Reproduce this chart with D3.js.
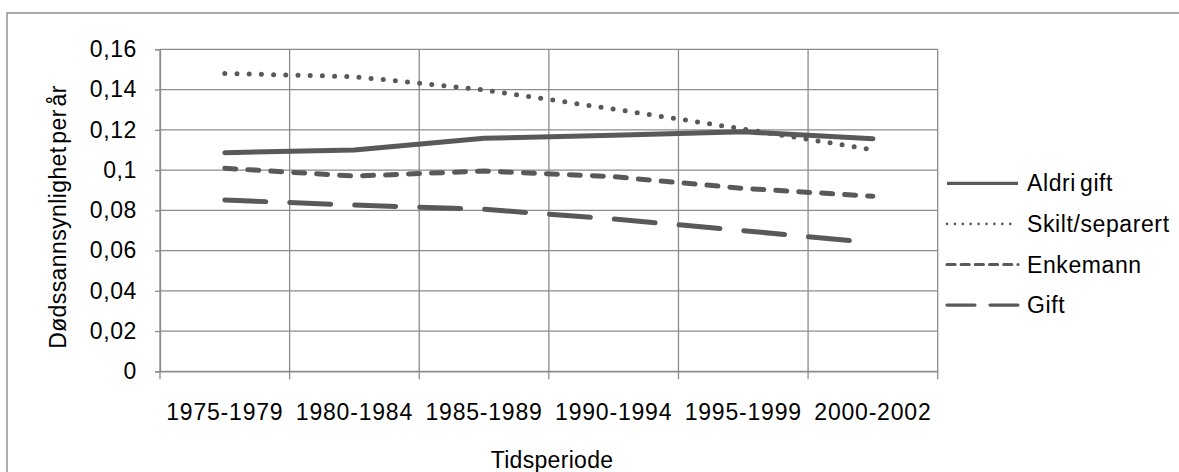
<!DOCTYPE html>
<html>
<head>
<meta charset="utf-8">
<script src="https://cdn.jsdelivr.net/npm/d3@7"></script>
<style>
  body { margin: 0; background: #fff; }
  text { font-family: "Liberation Sans", Arial, sans-serif; fill: #000; }
</style>
</head>
<body>
<div id="container"></div>
<script>
let width = 1179;
let height = 472;
let margin = ({ top: 49.3, right: 241.3, bottom: 100.7, left: 160 });

// data
let periods = ["1975-1979", "1980-1984", "1985-1989", "1990-1994", "1995-1999", "2000-2002"];
let y_ticks = [0, 0.02, 0.04, 0.06, 0.08, 0.1, 0.12, 0.14, 0.16];
let aldri_gift = [0.1086, 0.1100, 0.1158, 0.1173, 0.1190, 0.1156];
let skilt_separert = [0.1480, 0.1464, 0.1398, 0.1303, 0.1204, 0.1101];
let enkemann = [0.1009, 0.0970, 0.0995, 0.0967, 0.0909, 0.0870];
let gift = [0.0851, 0.0826, 0.0805, 0.0757, 0.0699, 0.0639];

let series = [
  { name: "Aldri gift", values: aldri_gift, dash: null, legend_dash: null },
  { name: "Skilt/separert", values: skilt_separert, dash: "0,12.2", legend_dash: "0,7.9" },
  { name: "Enkemann", values: enkemann, dash: "11,12", legend_dash: "8,6.2" },
  { name: "Gift", values: gift, dash: "41,24", legend_dash: "28,15" }
];

let line_color = "#595959";
let grid_color = "#8c8c8c";

let svg = d3.select("#container")
  .append("svg")
  .attr("width", width)
  .attr("height", height);

// outer chart frame (right and bottom fall outside the picture)
svg.append("path")
  .attr("d", "M7,480 L7,13 L1190,13")
  .attr("fill", "none")
  .attr("stroke", grid_color)
  .attr("stroke-width", 1.4);

let x = d3.scaleBand()
  .domain(periods)
  .range([margin.left, width - margin.right])
  .padding(0);

let y = d3.scaleLinear()
  .domain([0, 0.16])
  .range([height - margin.bottom, margin.top]);

let fmt = function (d) { return String(+d.toFixed(2)).replace(".", ","); };

// horizontal gridlines
svg.append("g")
  .selectAll("line")
  .data(y_ticks)
  .enter()
  .append("line")
  .attr("x1", margin.left)
  .attr("x2", width - margin.right)
  .attr("y1", d => y(d))
  .attr("y2", d => y(d))
  .attr("stroke", grid_color)
  .attr("stroke-width", 1.3);

// vertical gridlines at category boundaries
let bounds = periods.map(p => x(p)).concat([x(periods[periods.length - 1]) + x.bandwidth()]);
svg.append("g")
  .selectAll("line")
  .data(bounds)
  .enter()
  .append("line")
  .attr("x1", d => d)
  .attr("x2", d => d)
  .attr("y1", margin.top)
  .attr("y2", y(0) + 8)
  .attr("stroke", grid_color)
  .attr("stroke-width", 1.3);

// y axis
let y_axis = svg.append("g")
  .attr("transform", "translate(" + margin.left + ",0)")
  .call(d3.axisLeft(y).tickValues(y_ticks).tickFormat(fmt).tickSize(5).tickPadding(18));
y_axis.select(".domain").attr("stroke", grid_color).attr("stroke-width", 1.3);
y_axis.selectAll(".tick line").attr("stroke", grid_color).attr("stroke-width", 1.3);
y_axis.selectAll(".tick text")
  .attr("font-size", 23)
  .attr("fill", "#000")
  .style("letter-spacing", "0.6px")
  .attr("font-family", "Liberation Sans, Arial, sans-serif");

// x axis labels
let x_axis = svg.append("g")
  .attr("transform", "translate(0," + y(0) + ")")
  .call(d3.axisBottom(x).tickSize(0).tickPadding(49));
x_axis.select(".domain").attr("stroke", grid_color).attr("stroke-width", 1.3);
x_axis.selectAll(".tick text")
  .attr("font-size", 23)
  .attr("fill", "#000")
  .attr("dy", 0)
  .style("letter-spacing", "0.8px")
  .attr("font-family", "Liberation Sans, Arial, sans-serif");

// axis titles
svg.append("text")
  .attr("x", 552)
  .attr("y", 468)
  .attr("text-anchor", "middle")
  .attr("font-size", 23)
  .style("letter-spacing", "0.3px")
  .text("Tidsperiode");

svg.append("text")
  .attr("transform", "translate(66," + 217 + ") rotate(-90)")
  .attr("text-anchor", "middle")
  .attr("font-size", 23)
  .style("letter-spacing", "0.4px")
  .style("word-spacing", "-4px")
  .text("Dødssannsynlighet per år");

// series lines
let line = d3.line()
  .x((d, i) => x(periods[i]) + x.bandwidth() / 2)
  .y(d => y(d));

svg.append("g")
  .selectAll("path")
  .data(series)
  .enter()
  .append("path")
  .attr("d", d => line(d.values))
  .attr("fill", "none")
  .attr("stroke", line_color)
  .attr("stroke-width", 5)
  .attr("stroke-linecap", "round")
  .attr("stroke-linejoin", "round")
  .attr("stroke-dasharray", d => d.dash);

// legend
let legend = svg.append("g")
  .selectAll("g")
  .data(series)
  .enter()
  .append("g")
  .attr("transform", (d, i) => "translate(0," + (183.3 + i * 40.6) + ")");

legend.append("line")
  .attr("x1", 947)
  .attr("x2", 1018)
  .attr("y1", 0)
  .attr("y2", 0)
  .attr("stroke", line_color)
  .attr("stroke-width", d => d.name === "Skilt/separert" ? 2.6 : 3.2)
  .attr("stroke-linecap", d => d.legend_dash ? "round" : "butt")
  .attr("stroke-dasharray", d => d.legend_dash);

legend.append("text")
  .attr("x", 1027)
  .attr("y", 8)
  .attr("font-size", 23)
  .style("letter-spacing", "0.6px")
  .style("word-spacing", "-3px")
  .text(d => d.name);
</script>
</body>
</html>
